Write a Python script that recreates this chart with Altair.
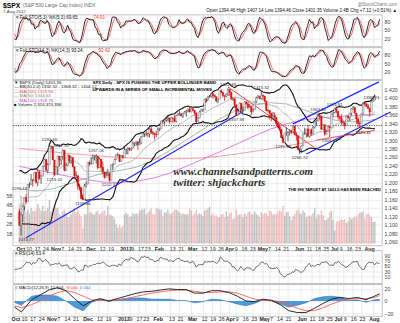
import json
import altair as alt
import pandas as pd

FONT = "Liberation Sans"

# ---------------- daily S&P 500 data (Sep 2011 warm-up, Oct 3 2011 .. Aug 7 2012) ----------------
sep11_close = [1204,1174,1166,1198,1186,1154,1162,1172,1188,1209,1216,1204,1202,1166,1129,1136,1162,1175,1151,1160,1131]
sep11_high = [1231,1200,1173,1198,1205,1185,1163,1176,1202,1209,1220,1211,1219,1205,1165,1141,1163,1195,1185,1175,1160]
sep11_low = [1203,1170,1141,1168,1183,1149,1136,1157,1162,1189,1205,1187,1201,1166,1114,1115,1136,1163,1150,1140,1131]

oct11_close = [1099,1124,1144,1164,1155,1195,1195,1207,1204,1224,1200,1225,1209,1215,1238,1254,1229,1242,1285,1285,1253]
oct11_high = [1138,1125,1146,1165,1172,1195,1200,1220,1206,1224,1224,1233,1229,1217,1239,1256,1254,1246,1293,1287,1284]
oct11_low = [1099,1075,1107,1134,1149,1158,1187,1196,1190,1206,1198,1191,1207,1197,1215,1238,1226,1221,1243,1278,1253]
nov11_close = [1219,1237,1262,1253,1261,1276,1229,1240,1264,1251,1258,1237,1216,1216,1193,1188,1162,1159,1192,1196,1247]
nov11_high = [1240,1239,1263,1260,1262,1278,1258,1246,1266,1264,1262,1260,1238,1226,1216,1197,1188,1172,1197,1203,1247]
nov11_low = [1215,1220,1219,1238,1241,1254,1226,1227,1240,1246,1244,1236,1209,1211,1183,1181,1161,1159,1180,1188,1197]
dec11_close = [1244,1244,1257,1259,1262,1235,1255,1236,1225,1212,1216,1219,1205,1241,1243,1254,1265,1265,1250,1263,1258]
dec11_high = [1251,1260,1266,1264,1267,1260,1259,1255,1249,1225,1226,1232,1224,1242,1245,1256,1266,1270,1266,1264,1265]
dec11_low = [1239,1243,1253,1252,1244,1231,1235,1226,1219,1209,1213,1216,1202,1206,1229,1243,1254,1262,1248,1249,1257]
jan12_close = [1277,1278,1281,1278,1281,1292,1293,1296,1289,1293,1308,1315,1315,1316,1314,1326,1318,1316,1313,1312]
jan12_high = [1285,1278,1283,1282,1282,1297,1294,1297,1296,1304,1309,1318,1315,1322,1316,1328,1333,1321,1316,1322]
jan12_low = [1258,1266,1266,1274,1274,1281,1285,1286,1277,1289,1290,1308,1307,1309,1306,1306,1314,1311,1301,1307]
feb12_close = [1324,1326,1345,1344,1347,1350,1352,1343,1352,1351,1344,1358,1361,1362,1357,1363,1366,1368,1373,1366]
feb12_high = [1330,1329,1345,1345,1349,1352,1357,1352,1354,1353,1359,1359,1364,1368,1362,1364,1368,1371,1373,1379]
feb12_low = [1313,1321,1326,1338,1336,1342,1344,1338,1344,1340,1342,1341,1357,1358,1355,1352,1363,1355,1365,1365]
mar12_close = [1374,1370,1364,1343,1352,1366,1371,1371,1396,1394,1403,1404,1409,1405,1402,1392,1397,1416,1412,1405,1403,1408]
mar12_high = [1376,1374,1370,1364,1354,1369,1374,1373,1396,1399,1403,1406,1409,1409,1407,1402,1398,1416,1419,1414,1404,1410]
mar12_low = [1366,1368,1359,1340,1344,1353,1366,1366,1372,1390,1394,1403,1400,1397,1401,1389,1387,1398,1412,1400,1392,1401]
apr12_close = [1419,1413,1398,1398,1383,1358,1368,1387,1370,1370,1390,1385,1377,1379,1366,1371,1391,1399,1403,1398]
apr12_high = [1422,1419,1410,1400,1397,1384,1374,1388,1387,1380,1391,1390,1390,1385,1379,1375,1391,1402,1406,1403]
apr12_low = [1404,1404,1394,1392,1378,1357,1359,1368,1369,1365,1370,1383,1372,1377,1359,1366,1372,1388,1398,1396]
may12_close = [1406,1403,1392,1369,1370,1363,1355,1358,1353,1339,1331,1325,1305,1295,1316,1318,1319,1321,1318,1333,1313,1310]
may12_high = [1415,1405,1404,1392,1373,1369,1363,1366,1365,1353,1344,1338,1326,1312,1316,1329,1320,1325,1324,1334,1331,1319]
may12_low = [1395,1394,1389,1369,1365,1348,1344,1353,1349,1336,1328,1324,1305,1292,1295,1310,1297,1310,1314,1318,1311,1299]
jun12_close = [1278,1278,1286,1315,1315,1326,1309,1324,1315,1330,1343,1345,1358,1355,1325,1336,1314,1320,1332,1329,1362]
jun12_high = [1310,1282,1287,1315,1329,1326,1335,1324,1327,1333,1343,1348,1363,1361,1358,1337,1334,1324,1334,1331,1362]
jun12_low = [1277,1267,1274,1286,1313,1306,1307,1306,1310,1313,1327,1333,1345,1346,1325,1325,1310,1313,1320,1307,1330]
jul12_close = [1365,1374,1368,1355,1352,1342,1341,1334,1357,1353,1363,1373,1377,1363,1350,1339,1338,1361,1386,1385,1379]
jul12_high = [1366,1374,1373,1367,1355,1361,1346,1341,1357,1357,1364,1375,1380,1376,1363,1351,1343,1363,1389,1392,1387]
jul12_low = [1355,1363,1363,1348,1346,1336,1334,1325,1334,1349,1345,1358,1371,1362,1338,1330,1328,1338,1360,1381,1379]
aug12_close = [1375,1366,1391,1394,1401]
aug12_high = [1385,1375,1395,1399,1407]
aug12_low = [1373,1355,1366,1391,1394]

# volume in billions (Oct 3 2011 .. Aug 7 2012)
vol_oct11 = [4.2,4.9,4.3,3.9,3.4,3.6,3.2,3.8,3.5,3.4,3.6,4.2,3.8,3.5,4.0,3.4,3.5,3.8,4.6,3.4,3.7]
vol_nov11 = [4.0,3.7,3.8,3.1,2.9,3.4,3.6,3.2,2.8,2.8,3.1,3.5,3.8,3.3,3.5,3.1,2.9,1.6,3.1,3.1,4.3]
vol_dec11 = [3.3,3.3,3.1,3.1,3.4,3.5,3.1,3.2,3.4,3.5,3.0,4.0,3.1,3.0,2.9,2.6,2.1,1.7,2.0,1.7,1.9]
vol_jan12 = [3.1,3.3,3.1,2.8,2.9,3.2,3.1,3.2,3.1,3.5,3.6,3.6,3.7,3.1,3.3,3.5,3.7,3.1,3.1,3.7]
vol_feb12 = [3.7,3.6,3.6,2.9,3.3,3.3,3.6,3.2,3.1,3.4,3.6,3.6,3.5,3.3,3.1,3.2,3.1,3.1,3.1,3.7]
vol_mar12 = [3.5,3.0,3.2,3.6,3.1,3.2,3.1,2.9,3.5,3.6,3.7,3.9,3.0,3.2,2.9,3.0,2.8,2.8,3.1,3.1,2.8,3.4]
vol_apr12 = [2.9,3.2,3.3,2.6,2.7,3.6,3.0,3.1,3.1,2.8,3.2,3.0,3.3,3.4,3.1,3.1,3.4,3.1,3.0,2.8]
vol_may12 = [3.3,3.1,3.2,3.2,2.9,3.5,3.4,3.1,3.1,3.1,3.4,3.5,3.4,4.0,2.9,3.3,3.4,2.9,2.5,2.9,3.1,3.5]
vol_jun12 = [3.6,3.3,3.1,3.5,3.3,2.8,3.0,2.9,3.0,3.2,3.8,2.7,3.1,3.0,3.5,3.0,2.5,2.5,2.7,3.3,3.5]
vol_jul12 = [2.5,1.4,2.3,2.4,2.4,2.6,2.5,2.6,2.2,2.4,2.8,2.6,2.7,2.9,2.8,3.1,3.3,3.3,3.4,2.6,3.1]
vol_aug12 = [3.2,3.0,2.8,2.3,2.3]

# moving averages (sampled, trading-day index)
ma_idx = [0,10,20,30,40,50,60,70,80,90,100,110,120,130,140,150,160,170,180,190,200,210,213]
ma200 = [1280,1276,1272,1268,1265,1262,1259,1257,1256,1256,1256,1258,1262,1267,1273,1279,1286,1293,1300,1307,1313,1320,1322]
ma100 = [1238,1230,1222,1214,1207,1201,1200,1203,1210,1222,1238,1255,1272,1290,1308,1325,1338,1347,1352,1355,1357,1359,1360]
ma50 = [1185,1180,1185,1197,1210,1222,1228,1236,1252,1275,1300,1325,1350,1370,1382,1388,1385,1372,1357,1346,1343,1346,1349]

# MACD(12,26,9) sampled
macd_idx = [0,4,10,15,20,25,30,35,40,45,50,55,60,65,70,75,80,85,90,95,100,105,110,115,120,125,130,135,140,145,150,155,160,165,170,175,180,185,190,195,200,205,210,213]
macd_line = [-10,-18,2,10,18,22,17,4,-8,0,4,0,4,8,12,15,16,18,20,19,19,13,13,17,17,14,8,0,-1,3,1,-6,-16,-19,-19,-12,-4,3,6,4,6,2,8,12.1]
macd_sig = [-8,-11,-6,0,8,14,17,14,8,2,1,1,2,4,7,10,13,15,17,18,18,16,14,14,15,15,13,8,3,1,1,-1,-6,-12,-16,-16,-11,-5,0,3,4,4,6,9.04]

# trend lines drawn on the chart (trading-day index, price)
blue_a_idx, blue_a_px = [4, 134], [1070, 1367]
blue_up_idx, blue_up_px = [164, 215.5], [1338, 1437]
blue_lo_idx, blue_lo_px = [172, 222.5], [1267, 1366]
red_dn_idx, red_dn_px = [125, 177], [1425, 1282]
red_lo_idx, red_lo_px = [178, 213], [1300, 1323]
support_level = [1334]

# price annotations
ann_hi_idx = [18, 25, 46, 125, 145, 179, 189, 211]
ann_hi_val = [1292.66, 1277.55, 1267.06, 1422.38, 1415.32, 1363.46, 1374.81, 1391.74]
ann_lo_idx = [0, 4, 21, 38, 54, 130, 158, 168, 186, 206]
ann_lo_val = [1195.19, 1074.77, 1215.42, 1158.66, 1202.37, 1357.38, 1291.98, 1266.74, 1306.62, 1325.41]

# x-axis ticks (trading-day index of each label)
tick_idx = [0,5,10,15,21,25,30,35,42,49,54,63,67,72,76,83,91,96,103,110,115,120,125,129,134,139,145,149,154,159,167,173,178,183,188,192,197,202,209]
tick_lbl = ["Oct","10","17","24","Nov","7","14","21","Dec","12","19","2012","9","17","23","Feb","13","21","Mar","12","19","26","Apr","9","16","23","May","7","14","21","Jun","11","18","25","Jul","9","16","23","Aug"]
month_idx = [0,21,42,63,83,103,125,145,167,188,209]

price_ticks = list(range(1060, 1421, 20))
vol_ticks = [1, 2, 3, 4, 5]
sto_ticks = [20, 50, 80]
rsi_ticks = [10, 30, 50, 70, 90]
macd_ticks = [-20, 0, 20]

# ---------------- assemble table ----------------
closes = (sep11_close + oct11_close + nov11_close + dec11_close + jan12_close + feb12_close + mar12_close
          + apr12_close + may12_close + jun12_close + jul12_close + aug12_close)
highs = (sep11_high + oct11_high + nov11_high + dec11_high + jan12_high + feb12_high + mar12_high
         + apr12_high + may12_high + jun12_high + jul12_high + aug12_high)
lows = (sep11_low + oct11_low + nov11_low + dec11_low + jan12_low + feb12_low + mar12_low
        + apr12_low + may12_low + jun12_low + jul12_low + aug12_low)
vols = (vol_oct11 + vol_nov11 + vol_dec11 + vol_jan12 + vol_feb12 + vol_mar12 + vol_apr12 + vol_may12
        + vol_jun12 + vol_jul12 + vol_aug12)
nw = len(sep11_close)
df = pd.DataFrame({
    "idx": list(range(-nw, len(closes) - nw)),
    "close": closes, "high": highs, "low": lows,
    "vol": [None] * nw + vols,
})
ma_df = pd.DataFrame({"idx": ma_idx, "ma200": ma200, "ma100": ma100, "ma50": ma50})
macd_df = pd.DataFrame({"idx": macd_idx, "macd": macd_line, "sig": macd_sig})
one = pd.DataFrame({"k": [0]})

W = 371
XDOM = [-0.9, 214.4]
SORT = [alt.SortField("idx", order="ascending")]
LEXPR = "%s[indexof(%s, datum.value)]" % (json.dumps(tick_lbl), json.dumps(tick_idx))
LFW = {"condition": {"test": "indexof(%s, datum.value) >= 0" % json.dumps(month_idx), "value": "bold"},
       "value": "normal"}
GRID = "#d9d9d9"


def X(show):
    ax = alt.Axis(values=tick_idx, grid=True, gridColor=GRID, gridWidth=0.5, ticks=False, domain=False,
                  labels=show, labelExpr=LEXPR, labelFontSize=5.3, labelFont=FONT, labelColor="#222",
                  labelPadding=0.5, labelOffset=1, labelFontWeight=LFW, labelOverlap=False, labelFlush=False,
                  labelAngle=0, title=None)
    return alt.X("idx:Q", scale=alt.Scale(domain=XDOM, nice=False, zero=False), axis=ax)


def yaxis(values):
    return alt.Axis(orient="right", values=values, grid=True, gridColor=GRID, gridWidth=0.5, ticks=False,
                    domain=False, labelFontSize=5.3, labelFont=FONT, labelColor="#444", labelPadding=2,
                    labelOverlap=False, labelFlush=False, title=None)


def Y(field, dom, values):
    return alt.Y(field, scale=alt.Scale(domain=dom, nice=False, zero=False), axis=yaxis(values))


def label(s, x, y, size=4.8, color="#111", weight="normal", align="left", font=FONT, style="normal"):
    return alt.Chart(one).mark_text(text=s, align=align, baseline="middle", fontSize=size, font=font,
                                    color=color, fontWeight=weight, fontStyle=style).encode(
        x=alt.value(x), y=alt.value(y))


def corner(x, y):
    return alt.Chart(one).mark_rule(color="white", strokeWidth=0.01).encode(
        x=alt.value(x), x2=alt.value(x + 0.5), y=alt.value(y))


# ---------------- stochastic panels ----------------
def sto_panel(n, dom, leg_black, leg_red, red_x, extra):
    src = (alt.Chart(df)
           .transform_window(ll="min(low)", hh="max(high)", frame=[-(n - 1), 0], sort=SORT)
           .transform_calculate(fk="100*(datum.close-datum.ll)/(datum.hh-datum.ll)")
           .transform_window(k="mean(fk)", frame=[-2, 0], sort=SORT)
           .transform_window(d="mean(k)", frame=[-2, 0], sort=SORT)
           .transform_filter("datum.idx >= 0"))
    lv = pd.DataFrame({"lv": [20, 80]})
    lv_rule = alt.Chart(lv).mark_rule(color="#9a9a9a", strokeWidth=0.6).encode(
        x=X(False), y=Y("lv:Q", dom, sto_ticks))
    mid = alt.Chart(pd.DataFrame({"lv": [50]})).mark_rule(color="#9a9a9a", strokeWidth=0.6,
                                                            strokeDash=[3, 1.5, 1, 1.5]).encode(
        x=X(False), y=Y("lv:Q", dom, sto_ticks))
    d_line = src.mark_line(color="#ff5a5a", strokeWidth=0.9, clip=True).encode(x=X(False), y=Y("d:Q", dom, sto_ticks))
    k_line = src.mark_line(color="#151515", strokeWidth=0.9, clip=True).encode(x=X(False), y=Y("k:Q", dom, sto_ticks))
    layers = [lv_rule, mid, d_line, k_line,
              label(leg_black, 3, 3.5, 4.6), label(leg_red, red_x, 3.5, 4.6, color="#ff3030")] + extra
    return alt.layer(*layers).properties(width=W, height=32)


header = [
    label("$SPX", -10, -9.0, 6.8, "#000", "bold"),
    label("(S&P 500 Large Cap Index) INDX", 10, -8.8, 4.9, "#666"),
    label("7-Aug-2012", -10, -2.3, 4.4, "#444"),
    label("Open 1394.46   High 1407.14   Low 1394.46   Close 1401.35   Volume 2.4B   Chg +7.12 (+0.51%) \u25b2",
          386, -3.6, 4.6, "#111", align="right"),
    label("@StockCharts.com", 386, -10.2, 4.6, "#777", align="right"),
    corner(-12, -13),
]
p1 = sto_panel(5, [-9.7, 105], "\u2261 Full STO(5,3) %K(5,3) 69.65,", "74.91", 81, header)
p2 = sto_panel(14, [-8.6, 106.5], "\u2261 Full STO(14,3) %K(14,3) 93.24,", "92.42", 86, [])

# ---------------- main price panel ----------------
PD = [1051.4, 1440.4]
candles_src = (alt.Chart(df)
               .transform_window(prev="lag(close)", sort=SORT)
               .transform_filter("datum.idx >= 0")
               .transform_calculate(dn="datum.close < datum.prev ? 1 : 0", z="0"))

vol_layer = candles_src.mark_bar(width=1.4, opacity=0.7).encode(
    x=X(True),
    y=alt.Y("vol:Q", scale=alt.Scale(domain=[-0.21, 17.26], nice=False, zero=False),
            axis=alt.Axis(orient="left", values=vol_ticks, labelExpr="datum.value + 'B'", grid=False,
                          ticks=False, domain=False, labelFontSize=4.8, labelFont=FONT, labelColor="#444",
                          labelPadding=1, title=None)),
    y2="z:Q",
    color=alt.condition("datum.dn == 1", alt.value("#f0a3a3"), alt.value("#a9a9a9")),
)

bb_src = (alt.Chart(df)
          .transform_window(ma20="mean(close)", sd="stdevp(close)", frame=[-19, 0], sort=SORT)
          .transform_calculate(ub="datum.ma20 + 2*datum.sd", lb="datum.ma20 - 2*datum.sd")
          .transform_filter("datum.idx >= 0"))


def pline(src, field, color, width, dash=None, clip=True):
    kw = dict(color=color, strokeWidth=width, clip=clip)
    if dash:
        kw["strokeDash"] = dash
    return src.mark_line(**kw).encode(x=X(True), y=Y(field, PD, price_ticks))


def seg(ix, px, color, width, clip=True):
    d = pd.DataFrame({"idx": ix, "p": px})
    return pline(alt.Chart(d), "p:Q", color, width, clip=clip)


price_layers = [
    alt.Chart(pd.DataFrame({"lvl": support_level})).mark_rule(color="#222", strokeWidth=0.8,
                                                                strokeDash=[1.2, 1.2]).encode(
        y=Y("lvl:Q", PD, price_ticks)),
    pline(alt.Chart(ma_df), "ma200:Q", "#f08a8a", 0.8),
    pline(alt.Chart(ma_df), "ma100:Q", "#e35be3", 0.8),
    pline(alt.Chart(ma_df), "ma50:Q", "#7f9d7f", 0.7),
    pline(bb_src, "ma20:Q", "#8c8c8c", 0.6),
    pline(bb_src, "ub:Q", "#111", 1.1),
    pline(bb_src, "lb:Q", "#111", 1.1),
    seg(blue_a_idx, blue_a_px, "#1f2bff", 1.2),
    seg(blue_up_idx, blue_up_px, "#1f2bff", 1.2, clip=False),
    seg(blue_lo_idx, blue_lo_px, "#1f2bff", 1.2, clip=False),
    seg(red_dn_idx, red_dn_px, "#f03030", 0.9),
    seg(red_lo_idx, red_lo_px, "#f05050", 0.8),
    candles_src.mark_rule(strokeWidth=0.8).encode(
        x=X(True), y=Y("low:Q", PD, price_ticks), y2="high:Q",
        color=alt.condition("datum.dn == 1", alt.value("#e01010"), alt.value("#333"))),
    candles_src.mark_bar(width=1.5, strokeWidth=0.4).encode(
        x=X(True), y=Y("prev:Q", PD, price_ticks), y2="close:Q",
        fill=alt.condition("datum.dn == 1", alt.value("#e01010"), alt.value("#ffffff")),
        stroke=alt.condition("datum.dn == 1", alt.value("#e01010"), alt.value("#444"))),
    alt.Chart(pd.DataFrame({"idx": ann_hi_idx, "v": ann_hi_val})).mark_text(
        fontSize=4.4, font=FONT, color="#333", baseline="bottom", dy=-1.5).encode(
        x=X(True), y=Y("v:Q", PD, price_ticks), text=alt.Text("v:Q", format=".2f")),
    alt.Chart(pd.DataFrame({"idx": ann_lo_idx, "v": ann_lo_val})).mark_text(
        fontSize=4.4, font=FONT, color="#333", baseline="top", dy=2).encode(
        x=X(True), y=Y("v:Q", PD, price_ticks), text=alt.Text("v:Q", format=".2f")),
    label("\u25bc $SPX (Daily) 1401.35", 1, 2.2, 4.4),
    label("\u2014 BB(20,2.0) 1332.52 - 1368.32 - 1404.12", 1, 6.8, 4.4),
    label("\u2014 MA(200) 1323.94", 1, 11.4, 4.4, "#e04848"),
    label("\u2014 MA(50) 1344.63", 1, 16.0, 4.4, "#6f8f6f"),
    label("\u2014 MA(100) 1359.78", 1, 20.6, 4.4, "#d83ed8"),
    label("\u25a0 Volume 2,324,374,336", 1, 25.2, 4.4),
    label("SPX Daily - SPX IS PUSHING THE UPPER BOLLINGER BAND", 80, 2.8, 4.3, "#000", "bold"),
    label("UPWARDS IN A SERIES OF SMALL INCREMENTAL MOVES", 80, 9.6, 4.3, "#000", "bold"),
    label("www.channelsandpatterns.com", 161, 92, 11, "#303030", "bold", font="Liberation Serif", style="italic"),
    label("twitter: shjackcharts", 161, 103, 11, "#303030", "bold", font="Liberation Serif", style="italic"),
    label("THE IHS TARGET AT 1403-5 HAS BEEN REACHED", 277, 110, 3.9, "#000", "bold"),
]
p3 = alt.layer(vol_layer, alt.layer(*price_layers)).resolve_scale(y="independent").properties(width=W, height=166)

# spacer that leaves room for the main panel's date labels
spacer = alt.Chart(one).mark_point(opacity=0).encode(x=alt.value(0), y=alt.value(0)).properties(
    width=W, height=3, view=alt.ViewBackground(strokeOpacity=0))

# ---------------- RSI panel ----------------
RD = [-14.8, 107.4]
rsi_src = (alt.Chart(df)
           .transform_window(prev="lag(close)", sort=SORT)
           .transform_calculate(g="datum.prev == null ? null : max(datum.close - datum.prev, 0)",
                                l="datum.prev == null ? null : max(datum.prev - datum.close, 0)")
           .transform_window(ag="mean(g)", al="mean(l)", frame=[-13, 0], sort=SORT)
           .transform_calculate(rsi="100 - 100/(1 + datum.ag/datum.al)")
           .transform_filter("datum.idx >= 0"))
p4 = alt.layer(
    alt.Chart(pd.DataFrame({"lv": [30, 70]})).mark_rule(color="#9a9a9a", strokeWidth=0.6).encode(
        x=X(False), y=Y("lv:Q", RD, rsi_ticks)),
    rsi_src.mark_line(color="#333", strokeWidth=0.7).encode(x=X(False), y=Y("rsi:Q", RD, rsi_ticks)),
    label("\u2261 RSI(14) 63.4", 2, 3.2, 4.6),
).properties(width=W, height=33)

# ---------------- MACD panel ----------------
MD = [-25.1, 27.4]
macd_src = alt.Chart(macd_df).transform_calculate(h="datum.macd - datum.sig", z="0")
p5 = alt.layer(
    alt.Chart(pd.DataFrame({"lv": [0]})).mark_rule(color="#9a9a9a", strokeWidth=0.6).encode(
        x=X(True), y=Y("lv:Q", MD, macd_ticks)),
    macd_src.mark_area(color="#3b8fd4", opacity=0.9, line={"color": "#1f5f9f", "strokeWidth": 0.5}).encode(
        x=X(True), y=Y("h:Q", MD, macd_ticks), y2="z:Q"),
    macd_src.mark_line(color="#ff5a5a", strokeWidth=0.9).encode(x=X(True), y=Y("sig:Q", MD, macd_ticks)),
    macd_src.mark_line(color="#151515", strokeWidth=0.9).encode(x=X(True), y=Y("macd:Q", MD, macd_ticks)),
    label("\u2261 MACD(12,26,9) 12.104,", 2, 3.2, 4.4),
    label("9.040,", 54, 3.2, 4.4, "#ff3030"),
    label("3.064", 67, 3.2, 4.4, "#2f7fd0"),
    corner(387.5, 39),
).properties(width=W, height=32)

chart = (alt.vconcat(p1, p2, p3, spacer, p4, p5, spacing=1, bounds="flush")
         .properties(padding=0, background="white")
         .configure_view(stroke="#9a9a9a", strokeWidth=0.6))

chart.save("out.html", embed_options={"renderer": "svg", "actions": False})
